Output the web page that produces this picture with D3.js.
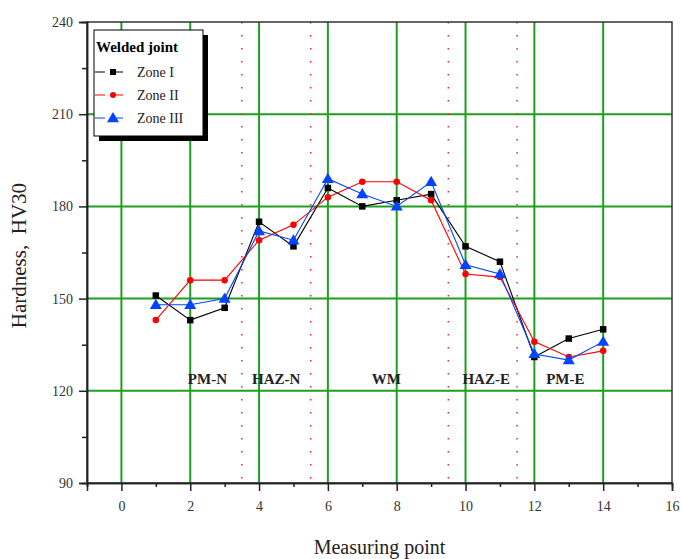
<!DOCTYPE html>
<html>
<head>
<meta charset="utf-8">
<script src="https://cdn.jsdelivr.net/npm/d3@7"></script>
<style>
  body { margin: 0; background: #fff; }
  svg { font-family: "Liberation Serif", "DejaVu Serif", serif; }
</style>
</head>
<body>
<svg width="682" height="559"></svg>
<script>
// measuring points
const points = [1, 2, 3, 4, 5, 6, 7, 8, 9, 10, 11, 12, 13, 14];

// hardness HV30 per zone
const zone1 = [151, 143, 147, 175, 167, 186, 180, 182, 184, 167, 162, 131, 137, 140];
const zone2 = [143, 156, 156, 169, 174, 183, 188, 188, 182, 158, 157, 136, 131, 133];
const zone3 = [148, 148, 150, 172, 169, 189, 184, 180, 188, 161, 158, 132, 130, 136];

const xTicks = [0, 2, 4, 6, 8, 10, 12, 14, 16];
const yTicks = [90, 120, 150, 180, 210, 240];

// region borders and labels
const borders = [3.5, 5.5, 9.5, 11.5];
const regions = [
  { name: 'PM-N', x: 2.5 },
  { name: 'HAZ-N', x: 4.5 },
  { name: 'WM', x: 7.7 },
  { name: 'HAZ-E', x: 10.6 },
  { name: 'PM-E', x: 12.9 }
];

const series = [
  { name: 'Zone I', values: zone1, color: '#000000', marker: 'square' },
  { name: 'Zone II', values: zone2, color: '#ff0000', marker: 'circle' },
  { name: 'Zone III', values: zone3, color: '#0044ff', marker: 'triangle' }
];

const svg = d3.select('svg');
const margin = { left: 87, right: 10, top: 22, bottom: 76 };
const width = 682 - margin.left - margin.right;
const height = 559 - margin.top - margin.bottom;

const x = d3.scaleLinear().domain([-1, 16]).range([0, width]);
const y = d3.scaleLinear().domain([90, 240]).range([height, 0]);

const g = svg.append('g').attr('transform', `translate(${margin.left},${margin.top})`);

// green grid
g.append('g').selectAll('line')
  .data(xTicks.filter(d => d > -1 && d < 16))
  .enter().append('line')
  .attr('x1', d => x(d)).attr('x2', d => x(d))
  .attr('y1', 0).attr('y2', height)
  .attr('stroke', '#1ea01e').attr('stroke-width', 2);

g.append('g').selectAll('line')
  .data(yTicks.filter(d => d > 90 && d < 240))
  .enter().append('line')
  .attr('x1', 0).attr('x2', width)
  .attr('y1', d => y(d)).attr('y2', d => y(d))
  .attr('stroke', '#1ea01e').attr('stroke-width', 2);

// red dotted region borders
g.append('g').selectAll('line')
  .data(borders)
  .enter().append('line')
  .attr('x1', d => x(d)).attr('x2', d => x(d))
  .attr('y1', 0).attr('y2', height)
  .attr('stroke', '#ff2020').attr('stroke-width', 1.5)
  .attr('stroke-dasharray', '1.5,11.5');

// region labels
g.append('g').selectAll('text')
  .data(regions)
  .enter().append('text')
  .attr('x', d => x(d.x))
  .attr('y', y(120) - 7)
  .attr('text-anchor', 'middle')
  .attr('font-size', 15)
  .attr('font-weight', 'bold')
  .attr('fill', '#222')
  .text(d => d.name);

// series lines and markers
const line = d3.line().x((d, i) => x(points[i])).y(d => y(d));

function drawMarker(sel, type, color, size) {
  if (type === 'square') {
    sel.append('rect')
      .attr('x', -size / 2).attr('y', -size / 2)
      .attr('width', size).attr('height', size)
      .attr('fill', color);
  } else if (type === 'circle') {
    sel.append('circle').attr('r', size / 2).attr('fill', color);
  } else {
    const s = size * 0.75;
    sel.append('path')
      .attr('d', `M0,${-s}L${s},${s * 0.7}L${-s},${s * 0.7}Z`)
      .attr('fill', color);
  }
}

series.forEach(s => {
  g.append('path')
    .datum(s.values)
    .attr('d', line)
    .attr('fill', 'none')
    .attr('stroke', s.color)
    .attr('stroke-width', 1.1);

  const m = g.append('g').selectAll('g')
    .data(s.values)
    .enter().append('g')
    .attr('transform', (d, i) => `translate(${x(points[i])},${y(d)})`);
  drawMarker(m, s.marker, s.color, s.marker === 'triangle' ? 8 : 6.5);
});

// frame
g.append('rect')
  .attr('x', 0).attr('y', 0)
  .attr('width', width).attr('height', height)
  .attr('fill', 'none').attr('stroke', '#333').attr('stroke-width', 1.5);

// axes
const xAxis = g.append('g')
  .attr('transform', `translate(0,${height})`)
  .call(d3.axisBottom(x).tickValues(xTicks).tickSize(8).tickPadding(10));
const xMinor = g.append('g')
  .attr('transform', `translate(0,${height})`)
  .call(d3.axisBottom(x).tickValues(d3.range(-1, 16, 2)).tickSize(4).tickFormat(''));

const yAxis = g.append('g')
  .call(d3.axisLeft(y).tickValues(yTicks).tickSize(8).tickPadding(6));
const yMinor = g.append('g')
  .call(d3.axisLeft(y).tickValues(d3.range(105, 240, 30)).tickSize(5).tickFormat(''));

[xAxis, xMinor, yAxis, yMinor].forEach(a => {
  a.select('.domain').attr('stroke', '#222').attr('stroke-width', 1.5);
  a.selectAll('.tick line').attr('stroke', '#222').attr('stroke-width', 1.5);
  a.selectAll('.tick text')
    .attr('font-family', '"Liberation Serif", serif')
    .attr('font-size', 14)
    .attr('fill', '#333');
});

// axis titles
svg.append('text')
  .attr('x', margin.left + x(7.5))
  .attr('y', 554)
  .attr('text-anchor', 'middle')
  .attr('font-size', 20)
  .attr('fill', '#222')
  .text('Measuring point');

svg.append('text')
  .attr('transform', `translate(26,${margin.top + y(164)}) rotate(-90)`)
  .attr('text-anchor', 'middle')
  .attr('font-size', 21)
  .attr('fill', '#222')
  .attr('xml:space', 'preserve')
  .text('Hardness,  HV30');

// legend
const lg = svg.append('g').attr('transform', 'translate(94,30)');
const lw = 109, lh = 106;
lg.append('rect')
  .attr('x', 5).attr('y', 5).attr('width', lw).attr('height', lh)
  .attr('fill', '#000');
lg.append('rect')
  .attr('x', 0).attr('y', 0).attr('width', lw).attr('height', lh)
  .attr('fill', '#fff').attr('stroke', '#000').attr('stroke-width', 1);
lg.append('text')
  .attr('x', 2).attr('y', 22)
  .attr('font-size', 15).attr('font-weight', 'bold')
  .text('Welded joint');

const items = lg.selectAll('g.item')
  .data(series)
  .enter().append('g')
  .attr('class', 'item')
  .attr('transform', (d, i) => `translate(0,${42 + i * 23})`);
items.append('line')
  .attr('x1', 1).attr('x2', 37)
  .attr('stroke', d => d.color).attr('stroke-width', 1.2)
  .attr('stroke-dasharray', '10,8,10');
items.each(function (d) {
  const mg = d3.select(this).append('g').attr('transform', 'translate(19,0)');
  drawMarker(mg, d.marker, d.color, d.marker === 'triangle' ? 8 : 6);
});
items.append('text')
  .attr('x', 43).attr('y', 5)
  .attr('font-size', 14)
  .attr('fill', '#222')
  .text(d => d.name);
</script>
</body>
</html>
